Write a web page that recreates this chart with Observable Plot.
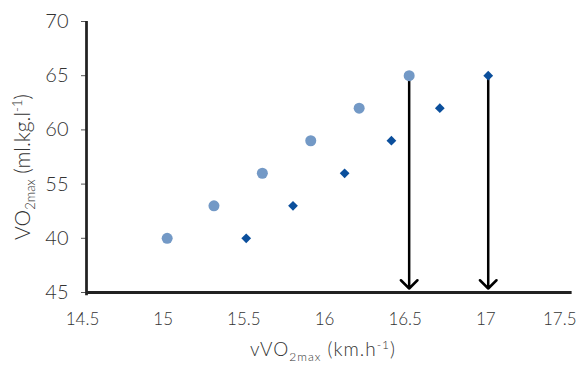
<!DOCTYPE html>
<html>
<head>
<meta charset="utf-8">
<script src="https://cdn.jsdelivr.net/npm/d3@7"></script>
<script src="https://cdn.jsdelivr.net/npm/@observablehq/plot@0.6"></script>
<style>
  html, body { margin: 0; padding: 0; background: #fff; }
  svg { display: block; }
</style>
</head>
<body>
<div id="chart"></div>
<script>
// Series
const circleX = [15.0, 15.29, 15.59, 15.89, 16.19, 16.5];
const circleY = [50, 53, 56, 59, 62, 65];
const diamondX = [15.49, 15.78, 16.1, 16.39, 16.69, 16.99];
const diamondY = [50, 53, 56, 59, 62, 65];
const arrowX = [16.5, 16.99];
const arrowTop = [65, 65];
const arrowBottom = [45, 45];

// Axis ticks and labels (as printed on the original)
const xTicks = [14.5, 15, 15.5, 16, 16.5, 17, 17.5];
const xTickLabels = ["14.5", "15", "15.5", "16", "16.5", "17", "17.5"];
const yTicks = [45, 50, 55, 60, 65, 70];
const yTickLabels = ["45", "40", "55", "60", "65", "70"];

const circles = circleX.map((x, i) => ({x, y: circleY[i]}));
const diamonds = diamondX.map((x, i) => ({x, y: diamondY[i]}));
const arrows = arrowX.map((x, i) => ({x, top: arrowTop[i], bottom: arrowBottom[i]}));
const xFmt = d => xTickLabels[xTicks.indexOf(d)];
const FONT = "Lato, 'Open Sans', sans-serif";

const chart = Plot.plot({
  width: 578,
  height: 366,
  marginLeft: 86,
  marginRight: 8,
  marginTop: 21,
  marginBottom: 74,
  style: {fontFamily: FONT, fontWeight: 300, background: "#fff", color: "#222", overflow: "visible"},
  x: {domain: [14.5, 17.5]},
  y: {domain: [45, 70]},
  marks: [
    Plot.axisY(yTicks, {
      tickFormat: d => yTickLabels[yTicks.indexOf(d)],
      tickSize: 5, tickPadding: 13, fontSize: 20, label: null,
      stroke: "#555", fill: "#333"
    }),
    Plot.axisX(xTicks.slice(0, -1), {
      tickFormat: xFmt,
      tickSize: 0, tickPadding: 20, fontSize: 17, dx: -4, label: null,
      fill: "#333"
    }),
    Plot.axisX(xTicks.slice(-1), {
      tickFormat: xFmt,
      tickSize: 0, tickPadding: 20, fontSize: 17, textAnchor: "end", dx: 6, label: null,
      fill: "#333"
    }),
    Plot.ruleX([14.5], {y1: 44.7, y2: 70, stroke: "#222", strokeWidth: 2.75}),
    Plot.ruleY([45], {x1: 14.5, x2: 17.51, stroke: "#222", strokeWidth: 3}),
    Plot.arrow(arrows, {
      x1: "x", x2: "x", y1: "top", y2: "bottom",
      stroke: "#000", strokeWidth: 2.5, headLength: 7, headAngle: 90, insetEnd: 4
    }),
    Plot.dot(circles, {x: "x", y: "y", r: 5.5, fill: "#7399C6"}),
    Plot.dot(diamonds, {x: "x", y: "y", r: 4.4, symbol: "diamond2", fill: "#0B4F9C"})
  ]
});

document.getElementById("chart").appendChild(chart);

// Axis titles with subscripts / superscripts
const svg = d3.select(chart);
const yTitle = svg.append("text")
  .attr("transform", "translate(30,167) rotate(-90)")
  .attr("text-anchor", "middle")
  .attr("font-family", FONT)
  .attr("font-weight", 300)
  .attr("font-size", 21)
  .attr("fill", "#333");
yTitle.append("tspan").text("VO");
yTitle.append("tspan").attr("font-size", 13).attr("dy", 5).text("2max");
yTitle.append("tspan").attr("dy", -5).text(" (ml.kg.l");
yTitle.append("tspan").attr("font-size", 13).attr("dy", -8).text("-1");
yTitle.append("tspan").attr("dy", 8).text(")");

const xTitle = svg.append("text")
  .attr("x", 323).attr("y", 356)
  .attr("text-anchor", "middle")
  .attr("font-family", FONT)
  .attr("font-weight", 300)
  .attr("font-size", 19)
  .attr("letter-spacing", 1)
  .attr("fill", "#333");
xTitle.append("tspan").text("vVO");
xTitle.append("tspan").attr("font-size", 12).attr("dy", 5).text("2max");
xTitle.append("tspan").attr("dy", -5).text(" (km.h");
xTitle.append("tspan").attr("font-size", 12).attr("dy", -7).text("-1");
xTitle.append("tspan").attr("dy", 7).text(")");
</script>
</body>
</html>
